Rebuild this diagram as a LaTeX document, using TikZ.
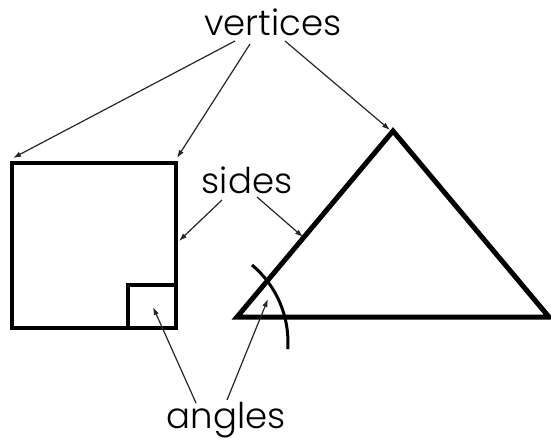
\documentclass[tikz,border=0pt]{standalone}
\usepackage{fontspec}
\setmainfont{Poppins}[UprightFont=* Light]
\usetikzlibrary{arrows.meta}

\begin{document}
\begin{tikzpicture}[x=1pt, y=-1pt,
      lbl/.style={font=\fontsize{35.5}{40}\selectfont, inner sep=0pt, anchor=base},
      rim/.style={line width=4.5pt},
      ptr/.style={-{Latex[length=8pt, width=5.5pt]}, draw=black!85, line width=1.2pt}]
    \useasboundingbox (0,0) rectangle (551,439);
    % shapes
    \draw[rim] (12,163) rectangle (176,328);
    \draw[line width=3.5pt] (128,328) -- (128,285) -- (176,285);
    \draw[line width=5pt] (237,317) -- (393,131) -- (549,317) -- cycle;
    \draw[line width=3pt] (252,265) arc[start angle=-50, end angle=4, radius=100.7];
    % where the arrows point
    \coordinate (sqL) at (13,158);
    \coordinate (sqR) at (177,158);
    \coordinate (top) at (390,130);
    \coordinate (sideSq) at (179,241);
    \coordinate (sideTr) at (303,237);
    \coordinate (rightAng) at (153,307);
    \coordinate (leftAng) at (268,299);
    % labels
    \node[lbl] (verts) at (273,35) {vertices};
    \node[lbl] (sides) at (247,193) {sides};
    \node[lbl] (angs) at (226,428) {angles};
    \draw[ptr] ([shift={(-38,6)}]verts.base) -- (sqL);
    \draw[ptr] ([shift={(-23,9)}]verts.base) -- (sqR);
    \draw[ptr] ([shift={(12,6)}]verts.base) -- (top);
    \draw[ptr] ([shift={(-25,7)}]sides.base) -- (sideSq);
    \draw[ptr] ([shift={(10,4)}]sides.base) -- (sideTr);
    \draw[ptr] ([shift={(-30,-25)}]angs.base) -- (rightAng);
    \draw[ptr] ([shift={(1,-28)}]angs.base) -- (leftAng);
  \end{tikzpicture}
\end{document}
